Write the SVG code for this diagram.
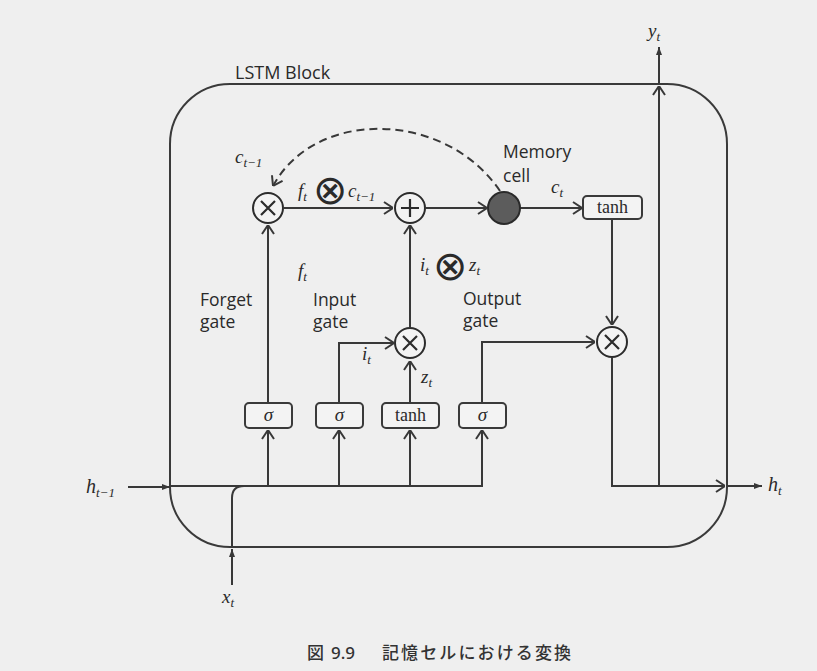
<svg xmlns="http://www.w3.org/2000/svg" width="817" height="671" viewBox="0 0 817 671">
<defs>
<style>
.ln{fill:none;stroke:#383838;stroke-width:2}
.nd{fill:#f3f3f3;stroke:#2c2c2c;stroke-width:2}
.bx{fill:#f3f3f3;stroke:#3a3a3a;stroke-width:2}
.op{fill:none;stroke:#2c2c2c;stroke-width:2.2}
.sans{font-family:"Open Sans","Noto Sans","Liberation Sans",sans-serif;font-size:17.5px;fill:#2a2a2a;font-weight:500}
.m{font-family:"Liberation Serif","DejaVu Serif",serif;font-style:italic;font-size:19px;fill:#2a2a2a}
.sub{font-size:13px}
.rm{font-family:"Liberation Serif","DejaVu Serif",serif;font-size:18px;fill:#2a2a2a}
.otimes{font-family:"DejaVu Sans",sans-serif;font-size:41px;font-weight:200;fill:#2a2a2a;font-style:normal}
.cap{font-family:"Noto Sans CJK JP","Noto Sans",sans-serif;font-size:17px;fill:#333;font-weight:500}
</style>
<marker id="oa" viewBox="0 0 10 14" refX="10" refY="7" markerWidth="10" markerHeight="14" markerUnits="userSpaceOnUse" orient="auto">
<path d="M1,1 L10,7 L1,13" fill="none" stroke="#383838" stroke-width="2"/>
</marker>
<marker id="fa" viewBox="0 0 8 6" refX="8" refY="3" markerWidth="8" markerHeight="6" markerUnits="userSpaceOnUse" orient="auto">
<path d="M0,0 L8,3 L0,6 Z" fill="#383838"/>
</marker>
</defs>
<rect x="0" y="0" width="817" height="671" fill="#efefef"/>

<g id="lstm-block">
<rect x="170" y="84" width="557" height="463" rx="60" ry="60" fill="none" stroke="#3a3a3a" stroke-width="2"/>
<text class="sans" x="235" y="79" style="font-size:18px">LSTM Block</text>
</g>

<g id="connectors">
<path class="ln" d="M128,487 H170" marker-end="url(#fa)"/>
<path class="ln" d="M170,486 H482 V430" marker-end="url(#oa)"/>
<path class="ln" d="M268,486 V430" marker-end="url(#oa)"/>
<path class="ln" d="M339,486 V430" marker-end="url(#oa)"/>
<path class="ln" d="M410,486 V430" marker-end="url(#oa)"/>
<path class="ln" d="M232,585 V549" marker-end="url(#fa)"/>
<path class="ln" d="M232,547 V498 Q232,486 244,486"/>
<path class="ln" d="M268,403 V225" marker-end="url(#oa)"/>
<path class="ln" d="M339,403 V343 H394" marker-end="url(#oa)"/>
<path class="ln" d="M410,403 V361" marker-end="url(#oa)"/>
<path class="ln" d="M410,327 V225" marker-end="url(#oa)"/>
<path class="ln" d="M482,403 V342 H595" marker-end="url(#oa)"/>
<path class="ln" d="M284,208 H393" marker-end="url(#oa)"/>
<path class="ln" d="M426,208 H487" marker-end="url(#oa)"/>
<path class="ln" d="M520,208 H582" marker-end="url(#oa)"/>
<path class="ln" d="M612,219 V325" marker-end="url(#oa)"/>
<path class="ln" d="M612,358 V486 H725" marker-end="url(#oa)"/>
<path class="ln" d="M727,486 H762" marker-end="url(#fa)"/>
<path class="ln" d="M659,486 V86" marker-end="url(#oa)"/>
<path class="ln" d="M659,84 V47" marker-end="url(#fa)"/>
<path class="ln" d="M500,191 C 445,110 315,108 273,186" stroke-dasharray="8,5" stroke-width="2.2" marker-end="url(#oa)"/>
</g>

<g id="forget-mult">
<circle class="nd" cx="268" cy="208" r="15"/>
<path class="op" d="M261,201 L275,215 M275,201 L261,215"/>
</g>
<g id="plus">
<circle class="nd" cx="410" cy="208" r="15"/>
<path class="op" d="M410,199 V217 M401,208 H419"/>
</g>
<g id="memory-cell">
<circle cx="504" cy="208" r="16" fill="#5c5c5c" stroke="#2a2a2a" stroke-width="2"/>
<text class="sans" x="503" y="158">Memory</text>
<text class="sans" x="503" y="182">cell</text>
</g>
<g id="tanh-out">
<rect class="bx" x="583" y="196" width="59" height="23" rx="4"/>
<text class="rm" x="612.5" y="213" text-anchor="middle">tanh</text>
</g>
<g id="output-mult">
<circle class="nd" cx="612" cy="342" r="15"/>
<path class="op" d="M605,335 L619,349 M619,335 L605,349"/>
</g>
<g id="input-mult">
<circle class="nd" cx="410" cy="343" r="15"/>
<path class="op" d="M403,336 L417,350 M417,336 L403,350"/>
</g>
<g id="forget-sigma">
<rect class="bx" x="245" y="403" width="47" height="25" rx="4"/>
<text class="m" x="268.5" y="421" text-anchor="middle">σ</text>
</g>
<g id="input-sigma">
<rect class="bx" x="316" y="403" width="47" height="25" rx="4"/>
<text class="m" x="339.5" y="421" text-anchor="middle">σ</text>
</g>
<g id="tanh-in">
<rect class="bx" x="382" y="403" width="57" height="25" rx="4"/>
<text class="rm" x="410.5" y="421" text-anchor="middle">tanh</text>
</g>
<g id="output-sigma">
<rect class="bx" x="459" y="403" width="47" height="25" rx="4"/>
<text class="m" x="482.5" y="421" text-anchor="middle">σ</text>
</g>

<g id="labels">
<text class="sans" x="200" y="306">Forget</text>
<text class="sans" x="200" y="328">gate</text>
<text class="sans" x="313" y="306">Input</text>
<text class="sans" x="313" y="328">gate</text>
<text class="sans" x="463" y="305">Output</text>
<text class="sans" x="463" y="327">gate</text>

<text class="m" x="235" y="163">c<tspan class="sub" dy="4">t−1</tspan></text>
<text class="m" x="298" y="197">f<tspan class="sub" dy="4">t</tspan></text>
<text class="otimes" x="330" y="204" text-anchor="middle">⊗</text>
<text class="m" x="348" y="197">c<tspan class="sub" dy="4">t−1</tspan></text>
<text class="m" x="551" y="193">c<tspan class="sub" dy="4">t</tspan></text>
<text class="m" x="298" y="277">f<tspan class="sub" dy="4">t</tspan></text>
<text class="m" x="420" y="271">i<tspan class="sub" dy="4">t</tspan></text>
<text class="otimes" x="450" y="280" text-anchor="middle">⊗</text>
<text class="m" x="469" y="271">z<tspan class="sub" dy="4">t</tspan></text>
<text class="m" x="362" y="360">i<tspan class="sub" dy="4">t</tspan></text>
<text class="m" x="421" y="383">z<tspan class="sub" dy="4">t</tspan></text>
<text class="m" x="86" y="493" style="font-size:20px">h<tspan class="sub" dy="4" style="font-size:13px">t−1</tspan></text>
<text class="m" x="768" y="491" style="font-size:20px">h<tspan class="sub" dy="4" style="font-size:13px">t</tspan></text>
<text class="m" x="648" y="37">y<tspan class="sub" dy="4">t</tspan></text>
<text class="m" x="222" y="603">x<tspan class="sub" dy="4">t</tspan></text>
</g>

<g id="caption">
<text class="cap" x="307" y="659">図</text>
<text class="cap" x="331" y="659" style="font-family:'Noto Sans','Liberation Sans',sans-serif">9.9</text>
<text class="cap" x="382" y="659" textLength="189" lengthAdjust="spacing">記憶セルにおける変換</text>
</g>
</svg>
